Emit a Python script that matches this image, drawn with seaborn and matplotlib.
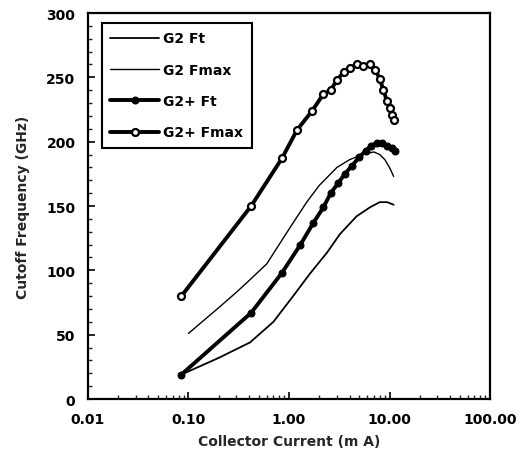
import numpy as np
import pandas as pd
import seaborn as sns
import matplotlib
matplotlib.use("Agg")
import matplotlib.pyplot as plt
from matplotlib.ticker import FixedLocator, LogLocator, MultipleLocator, NullFormatter

# values
g2_ft_x = [0.085, 0.2, 0.41, 0.7, 1.1, 1.6, 2.4, 3.2, 4.7, 6.4, 8.0, 9.5, 11.0]
g2_ft_y = [19, 32, 44, 60, 80, 97, 114, 128, 142, 149, 153, 153, 151]

g2_fmax_x = [0.1, 0.2, 0.3, 0.4, 0.6, 1.0, 1.5, 2.0, 3.0, 4.0, 5.0, 6.0, 7.0, 8.0, 9.0, 10.0, 11.0]
g2_fmax_y = [51, 71, 83, 92, 105, 132, 153, 166, 180, 186, 189, 191, 192, 190, 186, 180, 173]

g2p_ft_x = [0.085, 0.42, 0.85, 1.3, 1.75, 2.2, 2.6, 3.1, 3.6, 4.2, 5.0, 5.8, 6.6, 7.5, 8.5, 9.5, 10.5, 11.3]
g2p_ft_y = [19, 67, 98, 120, 137, 149, 160, 168, 175, 181, 188, 193, 197, 199, 199, 197, 195, 193]

g2p_fmax_x = [0.085, 0.42, 0.85, 1.2, 1.7, 2.2, 2.6, 3.0, 3.5, 4.0, 4.7, 5.5, 6.4, 7.2, 8.0, 8.7, 9.4, 10.0, 10.5, 11.0]
g2p_fmax_y = [80, 150, 187, 209, 224, 237, 240, 248, 254, 257, 260, 259, 260, 256, 249, 240, 232, 226, 221, 217]

xticks = [0.01, 0.1, 1, 10, 100]
xtick_labels = ["0.01", "0.10", "1.00", "10.00", "100.00"]
yticks = [0, 50, 100, 150, 200, 250, 300]

sns.set_style("ticks")
plt.rcParams['font.family'] = ['DejaVu Sans']
plt.rcParams['font.weight'] = 'bold'

fig = plt.figure(figsize=(5.31, 4.77), dpi=100)
ax = fig.add_axes([0.1657, 0.1614, 0.7571, 0.8092])

sns.lineplot(x=g2_ft_x, y=g2_ft_y, ax=ax, color='black', linewidth=1.3, label='G2 Ft')
sns.lineplot(x=g2_fmax_x, y=g2_fmax_y, ax=ax, color='black', linewidth=1.0, label='G2 Fmax')
sns.lineplot(x=g2p_ft_x, y=g2p_ft_y, ax=ax, color='black', linewidth=2.8, marker='o',
             markersize=5, markerfacecolor='black', markeredgecolor='black', label='G2+ Ft')
sns.lineplot(x=g2p_fmax_x, y=g2p_fmax_y, ax=ax, color='black', linewidth=2.8, marker='o',
             markersize=5, markerfacecolor='white', markeredgecolor='black',
             markeredgewidth=1.6, label='G2+ Fmax')

ax.set_xscale('log')
ax.set_xlim(0.01, 100)
ax.set_ylim(0, 300)
ax.xaxis.set_major_locator(FixedLocator(xticks))
ax.set_xticklabels(xtick_labels)
ax.xaxis.set_minor_locator(LogLocator(base=10, subs=np.arange(2, 10)))
ax.xaxis.set_minor_formatter(NullFormatter())
ax.set_yticks(yticks)
ax.yaxis.set_minor_locator(MultipleLocator(10))

ax.tick_params(axis='both', which='major', direction='in', length=5, width=1.2,
               labelsize=10, pad=9, colors='black')
ax.tick_params(axis='both', which='minor', direction='in', length=3, width=1.0)
for lab in ax.get_xticklabels() + ax.get_yticklabels():
    lab.set_fontweight('bold')

for s in ax.spines.values():
    s.set_linewidth(1.6)
    s.set_color('black')
    s.set_visible(True)

ax.set_xlabel('Collector Current (m A)', fontsize=10, fontweight='bold', labelpad=6)
ax.set_ylabel('Cutoff Frequency (GHz)', fontsize=10, fontweight='bold', labelpad=12)

leg = ax.legend(loc='upper left', bbox_to_anchor=(0.035, 0.974), borderaxespad=0,
                fancybox=False, edgecolor='black', framealpha=1, handlelength=3.5,
                labelspacing=1.25, borderpad=0.6, handletextpad=0.3,
                prop={'size': 10, 'weight': 'bold'})
leg.get_frame().set_linewidth(1.5)
for t in leg.get_texts():
    t.set_color('black')

fig.savefig('out.png', dpi=100)
